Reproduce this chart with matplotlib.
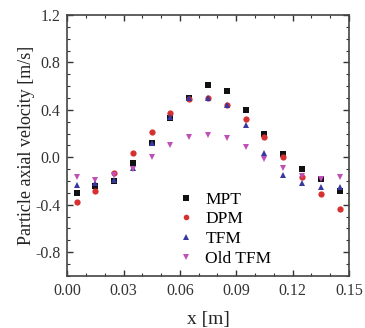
import matplotlib
matplotlib.use("Agg")
import matplotlib.pyplot as plt
from matplotlib.ticker import MultipleLocator, FormatStrFormatter

plt.rcParams['font.family'] = ['Liberation Serif', 'DejaVu Serif']

x = [0.005, 0.015, 0.025, 0.035, 0.045, 0.055, 0.065, 0.075, 0.085, 0.095,
     0.105, 0.115, 0.125, 0.135, 0.145]
mpt = [-0.30, -0.24, -0.20, -0.05, 0.12, 0.33, 0.50, 0.61, 0.56, 0.40,
       0.20, 0.03, -0.10, -0.18, -0.28]
dpm = [-0.38, -0.28, -0.13, 0.04, 0.21, 0.37, 0.49, 0.50, 0.44, 0.32,
       0.17, 0.00, -0.17, -0.31, -0.44]
tfm = [-0.23, -0.22, -0.19, -0.09, 0.12, 0.34, 0.50, 0.50, 0.44, 0.27,
       0.04, -0.15, -0.22, -0.25, -0.25]
old_tfm = [-0.17, -0.19, -0.15, -0.10, 0.00, 0.10, 0.17, 0.19, 0.16, 0.09,
           -0.01, -0.09, -0.16, -0.18, -0.17]

labels = ['MPT', 'DPM', 'TFM', 'Old TFM']
colors = ['#111111', '#d63030', '#3838a0', '#c050b8']
markers = ['s', 'o', '^', 'v']

fig = plt.figure(figsize=(3.65, 3.28), dpi=100)
ax = fig.add_axes([0.184, 0.159, 0.772, 0.795])

for ys, lab, c, m in zip([mpt, dpm, tfm, old_tfm], labels, colors, markers):
    ax.plot(x, ys, linestyle='none', marker=m, color=c, markersize=4.5,
            markeredgewidth=0, label=lab)

ax.set_xlim(0, 0.15)
ax.set_ylim(-1.0, 1.2)
ax.xaxis.set_major_locator(MultipleLocator(0.03))
ax.xaxis.set_minor_locator(MultipleLocator(0.01))
ax.yaxis.set_minor_locator(MultipleLocator(0.1))
ax.xaxis.set_major_formatter(FormatStrFormatter('%.2f'))
ax.yaxis.set_major_formatter(FormatStrFormatter('%.1f'))
ax.set_yticks([-0.8, -0.4, 0.0, 0.4, 0.8, 1.2])

ax.tick_params(which='both', direction='in', top=True, right=True,
               labelsize=11.5, colors='#333333')
ax.tick_params(which='major', length=4, width=1, pad=5)
ax.tick_params(which='minor', length=2, width=0.8)
for s in ax.spines.values():
    s.set_color('#444444')
    s.set_linewidth(1.2)

ax.set_xlabel('x [m]', fontsize=14, color='#222222', labelpad=9)
ax.set_ylabel('Particle axial velocity [m/s]', fontsize=13, color='#222222',
              labelpad=0)

ax.legend(loc='lower center', bbox_to_anchor=(0.555, -0.025), frameon=False,
          fontsize=12.5, handletextpad=0.5, labelspacing=0.2,
          handlelength=1.2, markerscale=0.9)

fig.savefig('out.png', dpi=100)
